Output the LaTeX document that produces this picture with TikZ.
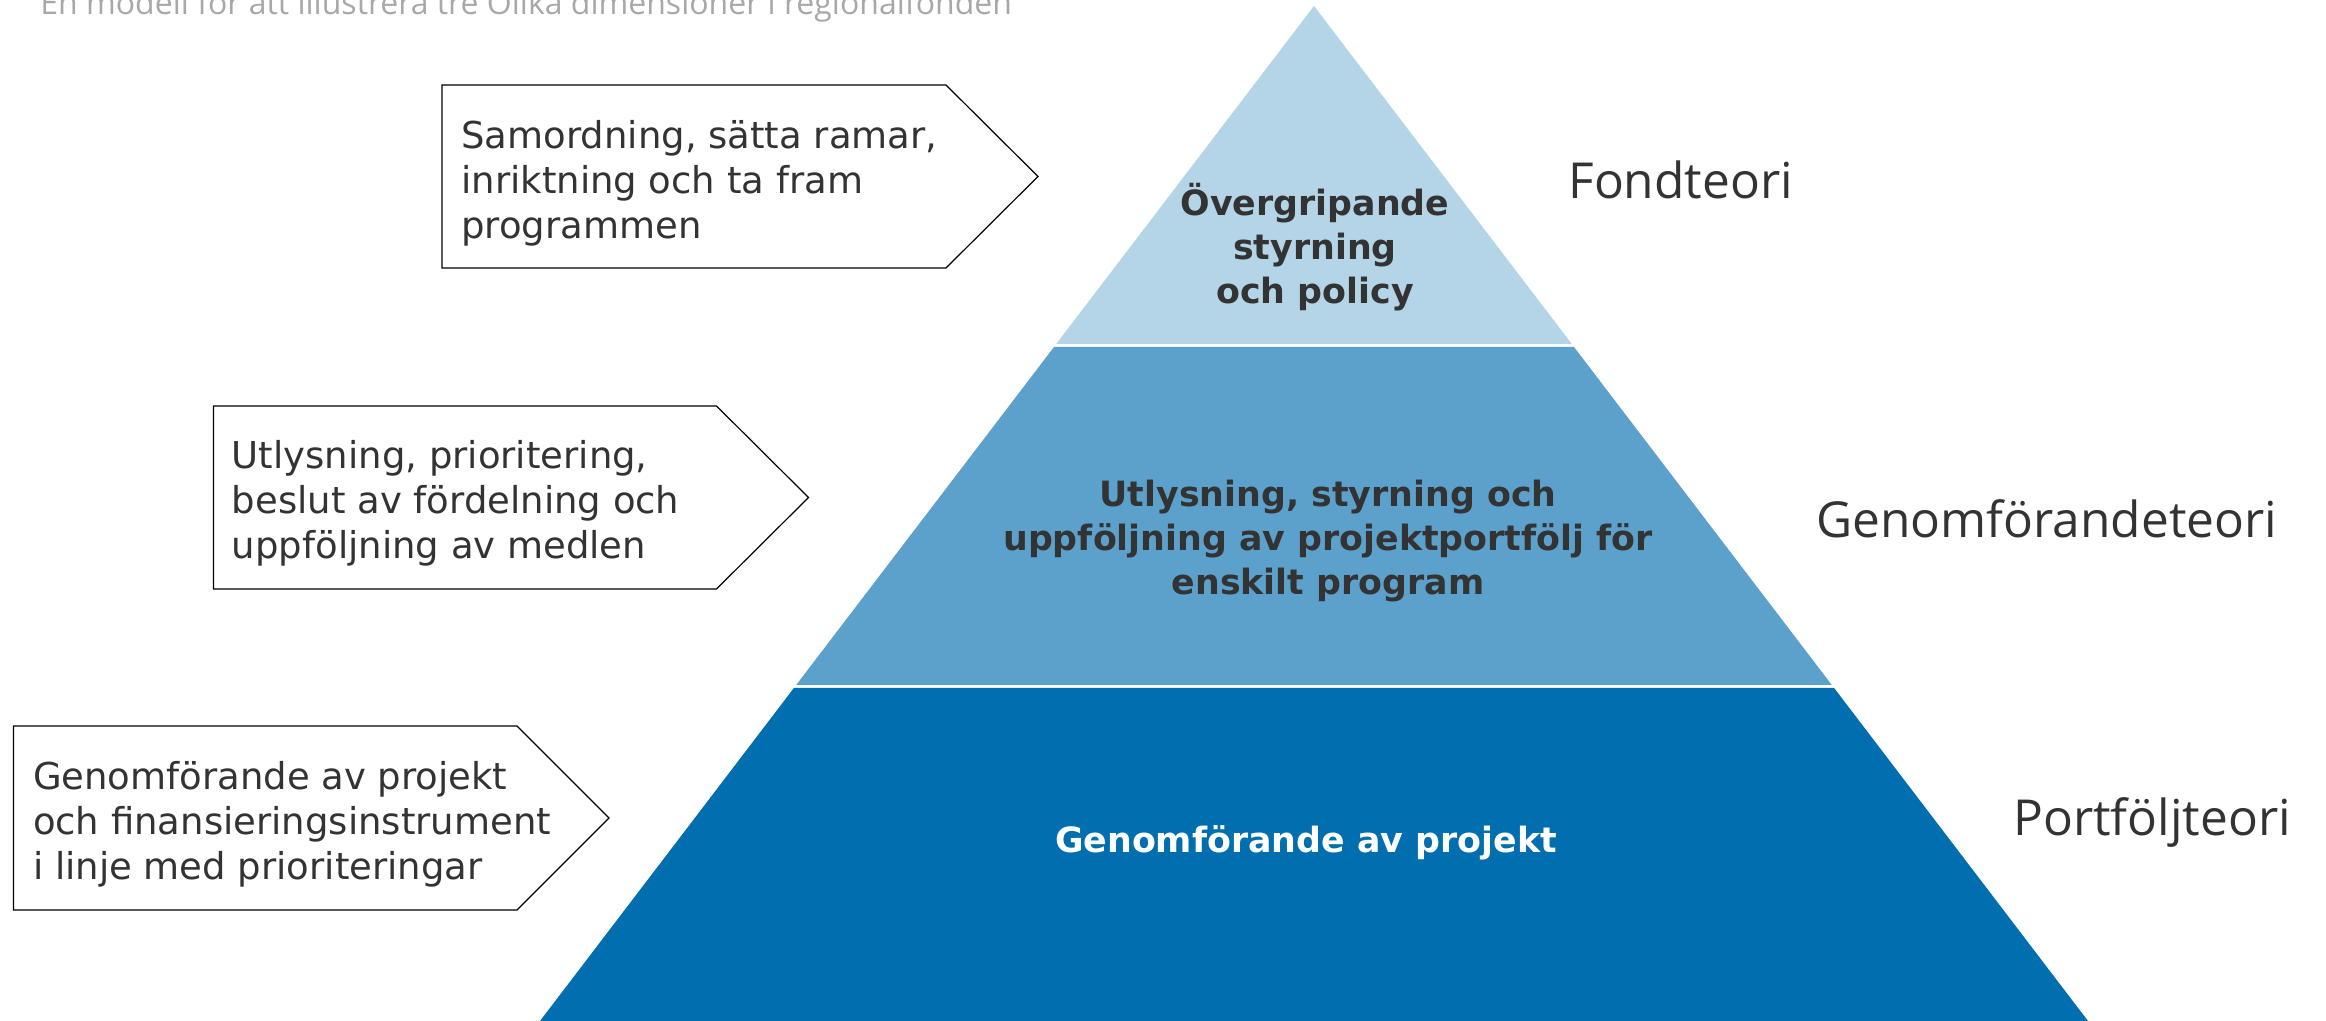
\documentclass[tikz,border=0pt]{standalone}
\usepackage{fontspec}
\setmainfont{DejaVu Sans}
\newfontfamily\labelfont{Open Sans}
\definecolor{toplayer}{HTML}{B4D4E7}
\definecolor{midlayer}{HTML}{5BA1CC}
\definecolor{botlayer}{HTML}{006EAF}
\definecolor{darktext}{HTML}{333333}
\definecolor{titlegray}{HTML}{A8A8A8}
\tikzset{
  arrowbox/.style={draw=black, line width=0.6pt, fill=white, line join=miter},
  boxtext/.style={anchor=west, inner sep=0pt, align=left, text=darktext,
    font=\fontsize{18.5}{22.6}\selectfont},
  layertext/.style={inner sep=0pt, align=center, text=darktext,
    font=\bfseries\fontsize{17.4}{22}\selectfont},
  theory/.style={anchor=west, inner sep=0pt, text=darktext,
    font=\labelfont\fontsize{24.8}{30}\selectfont}
}
\begin{document}
\begin{tikzpicture}[x=0.5pt,y=-0.5pt]
\useasboundingbox (0,0) rectangle (2326,1021);
\clip (0,0) rectangle (2326,1021);
% title (cut at top edge, as in the reference)
\node[anchor=base west, inner sep=0pt, text=titlegray,
  font=\labelfont\fontsize{16}{19}\selectfont] (title) at (40,15)
  {En modell för att illustrera tre Olika dimensioner i regionalfonden};
% pyramid layers
\fill[toplayer] (1314,6) -- (1571.8,344) -- (1056.2,344) -- cycle;
\fill[midlayer] (1054,347) -- (1574,347) -- (1831.8,685) -- (796.2,685) -- cycle;
\fill[botlayer] (793.9,688) -- (1834.1,688) -- (2088,1021) -- (540,1021) -- cycle;
% layer texts
\node[layertext] (l1) at (1315,247) {Övergripande\\styrning\\och policy};
\node[layertext] (l2) at (1328,541) {Utlysning, styrning och\\uppföljning av projektportfölj för\\enskilt program};
\node[layertext, text=white] (l3) at (1306,843) {Genomförande av projekt};
% arrow boxes
\draw[arrowbox] (442,85) -- (946,85) -- (1038,176.5) -- (946,268) -- (442,268) -- cycle;
\draw[arrowbox] (213.5,406) -- (716.5,406) -- (808.5,497.5) -- (716.5,589) -- (213.5,589) -- cycle;
\draw[arrowbox] (13.5,726) -- (517,726) -- (609,818) -- (517,910) -- (13.5,910) -- cycle;
\node[boxtext] (b1) at (461,183) {Samordning, sätta ramar,\\inriktning och ta fram\\programmen};
\node[boxtext] (b2) at (231.5,503) {Utlysning, prioritering,\\beslut av fördelning och\\uppföljning av medlen};
\node[boxtext] (b3) at (32.6,824) {Genomförande av projekt\\och finansieringsinstrument\\i linje med prioriteringar};
% theory labels
\node[theory] (t1) at (1568,180) {Fondteori};
\node[theory] (t2) at (1816,519) {Genomförandeteori};
\node[theory] (t3) at (2013,822) {Portföljteori};
\end{tikzpicture}
\end{document}
